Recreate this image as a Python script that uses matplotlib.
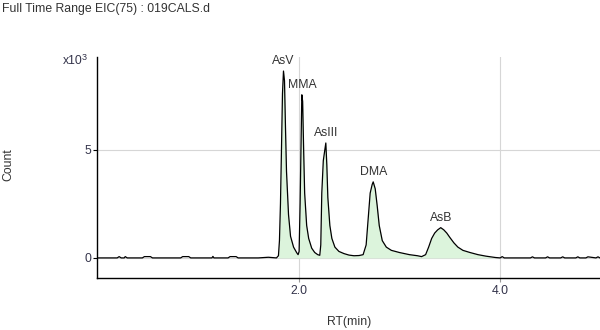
import numpy as np
import matplotlib
matplotlib.use("Agg")
from matplotlib import pyplot as plt

# chromatogram trace (RT in min, counts)
rt = [0.00, 0.20, 0.22, 0.24, 0.27, 0.28, 0.30, 0.45, 0.47, 0.50, 0.53, 0.55,
      0.83, 0.85, 0.88, 0.91, 0.93, 1.14, 1.15, 1.16, 1.30, 1.32, 1.35, 1.38,
      1.40, 1.60, 1.70, 1.78,
      # AsV
      1.80, 1.81, 1.82, 1.83, 1.84, 1.85, 1.86, 1.87, 1.88, 1.90, 1.92, 1.95,
      1.98, 1.995,
      # MMA
      2.005, 2.015, 2.025, 2.032, 2.04, 2.05, 2.06, 2.08, 2.10, 2.13, 2.16,
      2.19, 2.21,
      # AsIII
      2.22, 2.23, 2.245, 2.26, 2.27, 2.28, 2.29, 2.31, 2.33, 2.36, 2.40, 2.45,
      2.50, 2.55, 2.60, 2.64,
      # DMA
      2.67, 2.69, 2.71, 2.73, 2.74, 2.76, 2.78, 2.80, 2.83, 2.87, 2.92, 3.00,
      3.10, 3.18, 3.22,
      # AsB
      3.26, 3.29, 3.32, 3.35, 3.38, 3.41, 3.44, 3.47, 3.50, 3.54, 3.58, 3.63,
      3.70, 3.78, 3.86, 3.95,
      # tail
      4.00, 4.02, 4.04, 4.30, 4.32, 4.34, 4.45, 4.47, 4.49, 4.60, 4.62, 4.64,
      4.75, 4.77, 4.79, 4.85, 4.87, 4.95, 4.97, 4.99]
counts = [0, 0, 60, 0, 0, 60, 0, 0, 60, 60, 60, 0,
          0, 60, 60, 60, 0, 0, 70, 0, 0, 60, 60, 60,
          0, 0, 30, 0,
          100, 800, 2500, 5000, 7600, 8650, 8200, 6000, 4000, 2000, 1000, 500,
          250, 150,
          300, 2500, 5500, 7550, 7250, 5000, 3000, 1500, 900, 450, 250,
          150, 120,
          600, 3000, 4500, 5000, 5320, 4300, 2800, 1500, 900, 500, 300, 200,
          130, 100, 110, 150,
          600, 1800, 3000, 3400, 3520, 3200, 2400, 1500, 800, 500, 350, 250,
          150, 100, 60,
          150, 500, 900, 1150, 1300, 1400, 1300, 1150, 950, 700, 500, 350,
          250, 150, 80, 20,
          0, 60, 0, 0, 50, 0, 0, 50, 0, 0, 50, 0,
          0, 50, 0, 0, 50, 0, 50, 0]

peak_names = ["AsV", "MMA", "AsIII", "DMA", "AsB"]
peak_rt = [1.85, 2.032, 2.27, 2.74, 3.41]

x_ticks = [2.0, 4.0]
y_ticks = [0, 5000]

rt = np.array(rt)
counts = np.array(counts)

plt.rcParams['font.family'] = ['Liberation Sans', 'DejaVu Sans']
lab_col = '#33334a'
fs = 8.8

fig = plt.figure(figsize=(6, 3.3), dpi=100)
ax = fig.add_axes([97 / 600, 1 - 278 / 330, 1 - 97 / 600, (278 - 57) / 330])

ax.grid(True, color='#d6d6d6', lw=0.8)
ax.set_axisbelow(True)

sel = (rt >= 1.79) & (rt <= 3.97)
ax.fill_between(rt, counts, 0, where=sel, color='#dcf4dc', lw=0)
ax.plot(rt, counts, color='black', lw=0.9)

for name, t in zip(peak_names, peak_rt):
    h = np.interp(t, rt, counts)
    ax.annotate(name, (t, h), xytext=(0, 10), textcoords='offset pixels',
                ha='center', va='center', fontsize=fs, color='#333333')

ax.set_xlim(0, 4.99)
ax.set_ylim(-930, 9300)
ax.set_xticks(x_ticks)
ax.set_xticklabels(['%.1f' % v for v in x_ticks])
ax.set_yticks(y_ticks)
ax.set_yticklabels([str(v // 1000) for v in y_ticks])
ax.tick_params(axis='both', labelsize=fs, labelcolor=lab_col, length=3, width=0.8)
ax.tick_params(axis='y', pad=1)
ax.tick_params(axis='x', pad=2, color='#999999')

for s in ['top', 'right']:
    ax.spines[s].set_visible(False)
for s in ['left', 'bottom']:
    ax.spines[s].set_color('black')
    ax.spines[s].set_linewidth(1)

fig.text(2 / 600, 1 - 9 / 330, 'Full Time Range EIC(75) : 019CALS.d',
         ha='left', va='center', fontsize=fs, color='#333333')
fig.text(63 / 600, 1 - 61 / 330, 'x10', ha='left', va='center', fontsize=fs, color=lab_col)
fig.text(82 / 600, 1 - 58 / 330, '3', ha='left', va='center', fontsize=6.5, color=lab_col)
fig.text(8 / 600, 1 - 165 / 330, 'Count', rotation=90, ha='center', va='center',
         fontsize=fs, color='#333333')
fig.text(349 / 600, 1 - 322 / 330, 'RT(min)', ha='center', va='center',
         fontsize=fs, color='#333333')

fig.savefig('out.png', dpi=100)
